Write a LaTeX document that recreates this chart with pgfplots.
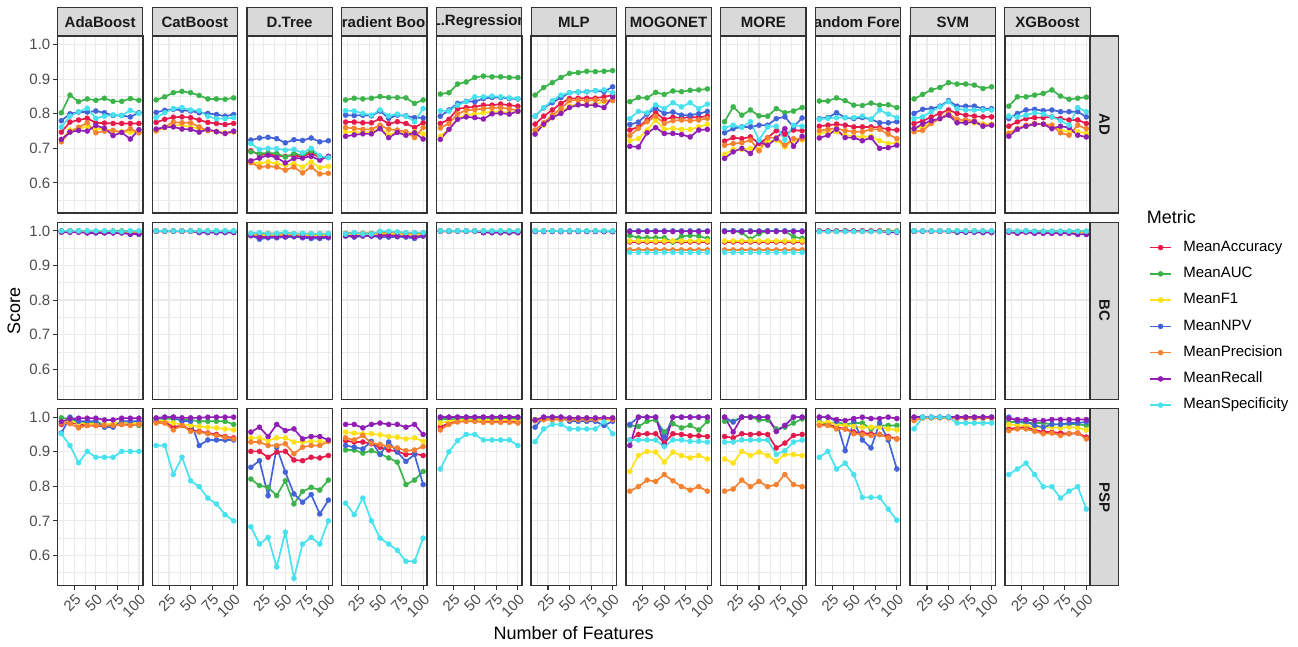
\documentclass[border=0pt]{standalone}
\usepackage{pgfplots}
\pgfplotsset{compat=1.18}
\usepackage{pgfplotstable}
\usepackage{fontspec}
\setmainfont{Liberation Sans}

\definecolor{cAcc}{HTML}{E6194B}
\definecolor{cAuc}{HTML}{3CB44B}
\definecolor{cF1}{HTML}{FFE119}
\definecolor{cNpv}{HTML}{4363D8}
\definecolor{cPrec}{HTML}{F58231}
\definecolor{cRec}{HTML}{911EB4}
\definecolor{cSpec}{HTML}{48E2EE}
\definecolor{gridc}{HTML}{EBEBEB}
\definecolor{bord}{HTML}{333333}
\definecolor{stripf}{HTML}{D9D9D9}
\definecolor{ticklab}{HTML}{4D4D4D}
\definecolor{striptxt}{HTML}{1A1A1A}

% ---------------- AD ----------------
\pgfplotstableread{
x acc auc f1 npv prec rec spec
10 0.747 0.803 0.724 0.780 0.719 0.726 0.762
20 0.776 0.854 0.753 0.800 0.748 0.747 0.793
30 0.782 0.835 0.757 0.805 0.761 0.752 0.806
40 0.787 0.843 0.763 0.805 0.774 0.750 0.816
50 0.774 0.839 0.757 0.808 0.745 0.766 0.787
60 0.773 0.845 0.755 0.803 0.750 0.758 0.793
70 0.772 0.836 0.751 0.795 0.752 0.737 0.797
80 0.772 0.836 0.748 0.795 0.746 0.746 0.795
90 0.772 0.844 0.747 0.791 0.757 0.727 0.810
100 0.772 0.839 0.748 0.803 0.745 0.754 0.801
}\tAdaAD
\pgfplotstableread{
x acc auc f1 npv prec rec spec
10 0.775 0.840 0.750 0.804 0.751 0.756 0.789
20 0.784 0.849 0.760 0.810 0.762 0.761 0.803
30 0.790 0.861 0.767 0.813 0.776 0.762 0.815
40 0.791 0.865 0.767 0.810 0.774 0.756 0.818
50 0.789 0.861 0.762 0.808 0.774 0.755 0.811
60 0.782 0.853 0.757 0.803 0.762 0.747 0.809
70 0.775 0.843 0.753 0.801 0.751 0.755 0.793
80 0.772 0.843 0.748 0.798 0.749 0.748 0.786
90 0.769 0.842 0.745 0.793 0.743 0.743 0.786
100 0.772 0.846 0.748 0.798 0.748 0.750 0.789
}\tCatAD
\pgfplotstableread{
x acc auc f1 npv prec rec spec
10 0.693 0.690 0.661 0.724 0.659 0.664 0.714
20 0.681 0.685 0.656 0.730 0.646 0.672 0.697
30 0.683 0.687 0.661 0.732 0.648 0.680 0.700
40 0.679 0.685 0.656 0.728 0.646 0.673 0.699
50 0.677 0.675 0.651 0.716 0.637 0.658 0.695
60 0.680 0.685 0.656 0.725 0.646 0.671 0.697
70 0.675 0.680 0.646 0.723 0.629 0.672 0.687
80 0.687 0.693 0.661 0.730 0.646 0.677 0.700
90 0.673 0.675 0.644 0.719 0.626 0.666 0.678
100 0.675 0.675 0.648 0.722 0.628 0.677 0.673
}\tDtAD
\pgfplotstableread{
x acc auc f1 npv prec rec spec
10 0.776 0.840 0.748 0.796 0.760 0.735 0.809
20 0.776 0.845 0.747 0.795 0.758 0.739 0.808
30 0.774 0.843 0.747 0.796 0.755 0.742 0.801
40 0.774 0.845 0.745 0.794 0.755 0.742 0.796
50 0.786 0.850 0.760 0.808 0.767 0.757 0.811
60 0.771 0.847 0.738 0.787 0.755 0.731 0.794
70 0.777 0.847 0.748 0.796 0.753 0.746 0.799
80 0.772 0.846 0.741 0.794 0.748 0.738 0.793
90 0.760 0.830 0.748 0.789 0.731 0.745 0.777
100 0.774 0.840 0.741 0.788 0.760 0.727 0.815
}\tGbAD
\pgfplotstableread{
x acc auc f1 npv prec rec spec
10 0.772 0.857 0.735 0.793 0.759 0.726 0.809
20 0.784 0.861 0.755 0.811 0.772 0.755 0.808
30 0.814 0.886 0.786 0.830 0.800 0.784 0.825
40 0.818 0.892 0.796 0.836 0.810 0.791 0.835
50 0.820 0.905 0.799 0.835 0.812 0.789 0.849
60 0.825 0.909 0.803 0.844 0.815 0.785 0.849
70 0.825 0.907 0.806 0.847 0.817 0.800 0.851
80 0.828 0.907 0.806 0.847 0.818 0.802 0.849
90 0.825 0.905 0.803 0.844 0.814 0.799 0.846
100 0.822 0.905 0.806 0.843 0.810 0.807 0.844
}\tLrAD
\pgfplotstableread{
x acc auc f1 npv prec rec spec
10 0.770 0.854 0.745 0.793 0.753 0.741 0.793
20 0.793 0.876 0.767 0.817 0.774 0.770 0.818
30 0.811 0.890 0.789 0.832 0.796 0.789 0.838
40 0.830 0.905 0.806 0.847 0.815 0.801 0.854
50 0.844 0.917 0.822 0.861 0.838 0.818 0.861
60 0.845 0.919 0.828 0.863 0.840 0.826 0.863
70 0.845 0.923 0.826 0.864 0.838 0.825 0.864
80 0.845 0.922 0.828 0.867 0.840 0.825 0.867
90 0.849 0.923 0.835 0.864 0.838 0.818 0.869
100 0.854 0.925 0.840 0.878 0.838 0.849 0.861
}\tMlpAD
\pgfplotstableread{
x acc auc f1 npv prec rec spec
10 0.753 0.835 0.722 0.769 0.737 0.706 0.786
20 0.762 0.847 0.728 0.776 0.758 0.704 0.807
30 0.782 0.846 0.753 0.799 0.777 0.745 0.803
40 0.803 0.862 0.782 0.816 0.793 0.760 0.826
50 0.784 0.856 0.755 0.801 0.772 0.743 0.815
60 0.790 0.866 0.758 0.805 0.780 0.743 0.832
70 0.788 0.864 0.755 0.796 0.782 0.740 0.820
80 0.790 0.868 0.755 0.796 0.780 0.733 0.832
90 0.790 0.869 0.762 0.800 0.782 0.753 0.815
100 0.793 0.872 0.770 0.807 0.787 0.755 0.828
}\tMogAD
\pgfplotstableread{
x acc auc f1 npv prec rec spec
10 0.721 0.777 0.683 0.745 0.709 0.671 0.759
20 0.731 0.820 0.697 0.757 0.714 0.690 0.767
30 0.728 0.796 0.697 0.762 0.716 0.700 0.761
40 0.733 0.811 0.700 0.762 0.724 0.685 0.777
50 0.714 0.794 0.697 0.767 0.693 0.719 0.724
60 0.731 0.793 0.719 0.767 0.731 0.709 0.762
70 0.751 0.815 0.724 0.786 0.731 0.728 0.764
80 0.741 0.803 0.704 0.791 0.709 0.757 0.724
90 0.753 0.808 0.724 0.762 0.728 0.706 0.767
100 0.751 0.818 0.724 0.788 0.728 0.735 0.764
}\tMoreAD
\pgfplotstableread{
x acc auc f1 npv prec rec spec
10 0.764 0.837 0.743 0.786 0.751 0.730 0.784
20 0.767 0.837 0.748 0.789 0.755 0.738 0.787
30 0.770 0.846 0.748 0.803 0.758 0.755 0.789
40 0.767 0.838 0.738 0.789 0.751 0.731 0.789
50 0.762 0.825 0.735 0.786 0.748 0.731 0.789
60 0.762 0.824 0.733 0.789 0.748 0.722 0.793
70 0.762 0.831 0.735 0.784 0.755 0.731 0.784
80 0.760 0.825 0.722 0.774 0.755 0.700 0.811
90 0.755 0.826 0.714 0.774 0.741 0.702 0.799
100 0.753 0.818 0.716 0.777 0.728 0.709 0.789
}\tRfAD
\pgfplotstableread{
x acc auc f1 npv prec rec spec
10 0.772 0.843 0.757 0.801 0.748 0.757 0.786
20 0.779 0.856 0.762 0.813 0.752 0.770 0.791
30 0.791 0.869 0.774 0.815 0.772 0.780 0.806
40 0.801 0.876 0.786 0.822 0.786 0.786 0.820
50 0.811 0.890 0.801 0.838 0.801 0.796 0.835
60 0.801 0.886 0.782 0.822 0.784 0.774 0.815
70 0.796 0.886 0.777 0.822 0.782 0.774 0.811
80 0.793 0.883 0.774 0.822 0.780 0.777 0.811
90 0.791 0.873 0.770 0.815 0.767 0.764 0.811
100 0.791 0.878 0.770 0.815 0.767 0.767 0.811
}\tSvmAD
\pgfplotstableread{
x acc auc f1 npv prec rec spec
10 0.764 0.822 0.745 0.786 0.743 0.735 0.793
20 0.777 0.849 0.757 0.801 0.757 0.755 0.791
30 0.786 0.849 0.764 0.811 0.767 0.764 0.796
40 0.789 0.854 0.770 0.813 0.772 0.770 0.803
50 0.789 0.859 0.770 0.809 0.770 0.770 0.799
60 0.791 0.869 0.767 0.811 0.767 0.757 0.791
70 0.786 0.851 0.752 0.806 0.745 0.764 0.780
80 0.782 0.842 0.748 0.806 0.738 0.760 0.767
90 0.782 0.845 0.748 0.806 0.767 0.738 0.818
100 0.772 0.848 0.743 0.791 0.757 0.733 0.806
}\tXgbAD

% ---------------- BC ----------------
\pgfplotstableread{
x acc auc f1 npv prec rec spec
10 0.998 1.000 0.997 1.000 0.999 0.996 1.000
20 0.998 1.000 0.997 1.000 0.999 0.996 1.000
30 0.998 1.000 0.997 1.000 0.999 0.996 1.000
40 0.997 0.999 0.996 0.995 0.998 0.994 1.000
50 0.997 0.999 0.996 0.995 0.998 0.994 1.000
60 0.997 0.999 0.996 0.995 0.998 0.994 1.000
70 0.997 1.000 0.996 0.995 0.998 0.994 0.999
80 0.997 1.000 0.996 0.995 0.998 0.994 0.998
90 0.996 0.999 0.994 0.990 0.997 0.991 1.000
100 0.996 0.999 0.994 0.990 0.997 0.991 1.000
}\tAdaBC
\pgfplotstableread{
x acc auc f1 npv prec rec spec
10 0.999 1.000 0.999 1.000 1.000 0.999 1.000
20 0.999 1.000 0.999 1.000 1.000 0.999 1.000
30 0.999 1.000 0.999 1.000 1.000 0.999 1.000
40 0.999 1.000 0.999 1.000 1.000 0.999 1.000
50 0.999 1.000 0.999 1.000 1.000 0.999 1.000
60 0.998 1.000 0.997 0.995 0.999 0.996 1.000
70 0.998 1.000 0.997 0.995 0.999 0.996 1.000
80 0.998 1.000 0.997 0.995 0.999 0.996 1.000
90 0.998 1.000 0.997 0.995 0.999 0.996 1.000
100 0.998 1.000 0.997 0.995 0.999 0.996 1.000
}\tCatBC
\pgfplotstableread{
x acc auc f1 npv prec rec spec
10 0.989 0.990 0.989 0.987 0.992 0.986 0.993
20 0.986 0.989 0.987 0.976 0.992 0.982 0.995
30 0.987 0.990 0.988 0.980 0.993 0.983 0.992
40 0.987 0.990 0.988 0.980 0.992 0.983 0.993
50 0.988 0.990 0.989 0.982 0.993 0.984 0.996
60 0.988 0.990 0.989 0.983 0.992 0.985 0.992
70 0.987 0.990 0.988 0.980 0.992 0.983 0.993
80 0.986 0.989 0.987 0.978 0.992 0.982 0.992
90 0.986 0.989 0.987 0.978 0.992 0.982 0.992
100 0.987 0.990 0.988 0.980 0.992 0.983 0.992
}\tDtBC
\pgfplotstableread{
x acc auc f1 npv prec rec spec
10 0.988 0.993 0.989 0.985 0.992 0.986 0.991
20 0.989 0.993 0.990 0.982 0.994 0.985 0.995
30 0.988 0.993 0.989 0.985 0.992 0.986 0.991
40 0.988 0.993 0.989 0.985 0.992 0.986 0.991
50 0.991 0.994 0.992 0.982 0.997 0.986 0.999
60 0.991 0.994 0.992 0.982 0.997 0.986 0.999
70 0.990 0.994 0.991 0.983 0.996 0.985 0.997
80 0.989 0.993 0.990 0.982 0.994 0.985 0.995
90 0.988 0.993 0.988 0.978 0.994 0.982 0.995
100 0.989 0.993 0.990 0.985 0.994 0.986 0.995
}\tGbBC
\pgfplotstableread{
x acc auc f1 npv prec rec spec
10 0.999 1.000 0.999 1.000 1.000 0.999 1.000
20 0.999 1.000 0.999 1.000 1.000 0.999 1.000
30 0.999 1.000 0.999 1.000 1.000 0.999 1.000
40 0.999 1.000 0.999 1.000 1.000 0.999 1.000
50 0.999 1.000 0.999 1.000 1.000 0.999 1.000
60 0.998 1.000 0.997 0.995 0.999 0.995 1.000
70 0.998 1.000 0.997 0.995 0.999 0.995 1.000
80 0.998 1.000 0.997 0.995 0.999 0.995 1.000
90 0.998 1.000 0.997 0.995 0.999 0.995 1.000
100 0.998 1.000 0.997 0.995 0.999 0.995 1.000
}\tLrBC
\pgfplotstableread{
x acc auc f1 npv prec rec spec
10 0.999 1.000 0.999 1.000 0.999 0.998 1.000
20 0.999 1.000 0.999 1.000 0.999 0.998 1.000
30 0.999 1.000 0.999 1.000 0.999 0.998 1.000
40 0.999 1.000 0.999 1.000 0.999 0.998 1.000
50 0.999 1.000 0.999 1.000 0.999 0.998 1.000
60 0.999 1.000 0.999 1.000 0.999 0.998 1.000
70 0.999 1.000 0.999 0.999 0.999 0.998 1.000
80 0.999 1.000 0.999 0.999 0.999 0.998 1.000
90 0.999 1.000 0.999 0.998 0.999 0.998 1.000
100 0.999 1.000 0.999 0.998 0.999 0.998 1.000
}\tMlpBC
\pgfplotstableread{
x acc auc f1 npv prec rec spec
10 0.968 0.987 0.971 1.000 0.945 0.998 0.938
20 0.968 0.980 0.971 1.000 0.945 0.998 0.938
30 0.968 0.980 0.971 1.000 0.945 0.998 0.938
40 0.968 0.980 0.971 1.000 0.945 0.998 0.938
50 0.968 0.980 0.971 1.000 0.945 0.998 0.938
60 0.968 0.968 0.971 1.000 0.945 0.998 0.938
70 0.968 0.984 0.971 1.000 0.945 0.998 0.938
80 0.968 0.987 0.971 1.000 0.945 0.998 0.938
90 0.968 0.985 0.971 1.000 0.945 0.998 0.938
100 0.968 0.978 0.971 1.000 0.945 0.998 0.938
}\tMogBC
\pgfplotstableread{
x acc auc f1 npv prec rec spec
10 0.968 1.000 0.971 1.000 0.945 0.998 0.938
20 0.968 1.000 0.971 1.000 0.945 0.998 0.938
30 0.968 0.995 0.971 1.000 0.945 0.998 0.938
40 0.968 0.976 0.971 1.000 0.945 0.998 0.938
50 0.968 0.992 0.971 1.000 0.945 0.998 0.938
60 0.968 1.000 0.971 1.000 0.945 0.998 0.938
70 0.968 1.000 0.971 1.000 0.945 0.998 0.938
80 0.968 1.000 0.971 1.000 0.945 0.998 0.938
90 0.968 0.983 0.971 1.000 0.945 0.998 0.938
100 0.968 0.978 0.971 1.000 0.945 0.998 0.938
}\tMoreBC
\pgfplotstableread{
x acc auc f1 npv prec rec spec
10 0.999 1.000 0.999 1.000 1.000 0.999 0.998
20 0.999 1.000 0.999 1.000 1.000 0.999 0.998
30 0.999 1.000 0.999 1.000 1.000 0.999 0.998
40 0.999 1.000 0.999 1.000 1.000 0.999 0.998
50 0.999 1.000 0.999 1.000 1.000 0.999 0.998
60 0.999 1.000 0.999 1.000 1.000 0.999 0.998
70 0.999 1.000 0.999 1.000 1.000 0.999 0.998
80 0.999 1.000 0.999 1.000 1.000 0.999 0.998
90 0.998 1.000 0.998 0.996 0.999 0.997 0.998
100 0.998 1.000 0.998 0.996 0.999 0.997 0.998
}\tRfBC
\pgfplotstableread{
x acc auc f1 npv prec rec spec
10 0.999 1.000 0.999 1.000 1.000 0.999 1.000
20 0.999 1.000 0.999 1.000 1.000 0.999 1.000
30 0.999 1.000 0.999 1.000 1.000 0.999 1.000
40 0.999 1.000 0.999 1.000 1.000 0.999 1.000
50 0.999 1.000 0.999 1.000 1.000 0.999 1.000
60 0.998 1.000 0.998 0.996 0.999 0.997 1.000
70 0.998 1.000 0.998 0.996 0.999 0.997 1.000
80 0.998 1.000 0.998 0.996 0.999 0.997 1.000
90 0.998 1.000 0.998 0.995 0.999 0.996 1.000
100 0.998 1.000 0.998 0.995 0.999 0.996 1.000
}\tSvmBC
\pgfplotstableread{
x acc auc f1 npv prec rec spec
10 0.998 0.999 0.998 1.000 0.999 0.996 1.000
20 0.997 0.999 0.997 0.995 0.998 0.993 0.999
30 0.998 0.999 0.998 1.000 0.999 0.996 1.000
40 0.997 0.999 0.997 0.995 0.998 0.993 0.999
50 0.997 0.999 0.997 0.995 0.998 0.993 0.999
60 0.997 0.999 0.997 0.995 0.998 0.993 0.999
70 0.997 0.999 0.997 0.995 0.998 0.993 0.999
80 0.997 0.999 0.997 0.995 0.998 0.993 0.999
90 0.996 0.999 0.995 0.990 0.998 0.990 0.999
100 0.996 0.999 0.995 0.990 0.998 0.990 0.999
}\tXgbBC

% ---------------- PSP ----------------
\pgfplotstableread{
x acc auc f1 npv prec rec spec
10 0.979 0.998 0.986 0.954 0.983 0.987 0.952
20 0.986 0.995 0.988 1.000 0.981 0.995 0.918
30 0.979 0.986 0.983 0.988 0.969 0.997 0.868
40 0.976 0.986 0.981 0.988 0.976 0.997 0.901
50 0.976 0.986 0.981 0.988 0.976 0.997 0.884
60 0.973 0.979 0.979 0.971 0.976 0.992 0.884
70 0.976 0.979 0.981 0.971 0.976 0.992 0.884
80 0.979 0.986 0.986 0.988 0.979 0.997 0.901
90 0.979 0.983 0.983 0.988 0.976 0.997 0.901
100 0.979 0.976 0.983 0.988 0.979 0.997 0.901
}\tAdaPSP
\pgfplotstableread{
x acc auc f1 npv prec rec spec
10 0.988 0.995 0.992 0.995 0.983 0.998 0.918
20 0.986 0.995 0.988 1.000 0.983 1.000 0.918
30 0.971 0.995 0.983 1.000 0.963 1.000 0.834
40 0.976 0.992 0.979 0.988 0.976 0.998 0.884
50 0.963 0.992 0.976 0.988 0.959 0.998 0.816
60 0.959 0.988 0.973 0.918 0.957 0.998 0.799
70 0.954 0.988 0.971 0.934 0.952 1.000 0.766
80 0.950 0.988 0.969 0.934 0.947 1.000 0.749
90 0.944 0.988 0.966 0.934 0.942 1.000 0.718
100 0.940 0.979 0.963 0.934 0.937 1.000 0.700
}\tCatPSP
\pgfplotstableread{
x acc auc f1 npv prec rec spec
10 0.901 0.821 0.940 0.855 0.928 0.957 0.683
20 0.901 0.802 0.940 0.874 0.928 0.971 0.633
30 0.884 0.797 0.932 0.773 0.918 0.944 0.652
40 0.899 0.773 0.940 0.913 0.918 0.979 0.567
50 0.901 0.816 0.940 0.841 0.923 0.961 0.667
60 0.876 0.749 0.928 0.778 0.894 0.966 0.534
70 0.874 0.785 0.928 0.754 0.913 0.937 0.633
80 0.884 0.797 0.930 0.776 0.918 0.944 0.652
90 0.882 0.789 0.930 0.720 0.918 0.944 0.633
100 0.889 0.818 0.930 0.760 0.930 0.934 0.700
}\tDtPSP
\pgfplotstableread{
x acc auc f1 npv prec rec spec
10 0.932 0.905 0.957 0.918 0.940 0.979 0.751
20 0.928 0.905 0.954 0.913 0.934 0.979 0.718
30 0.928 0.896 0.952 0.908 0.947 0.969 0.766
40 0.923 0.903 0.952 0.930 0.925 0.979 0.700
50 0.913 0.894 0.949 0.892 0.921 0.983 0.650
60 0.905 0.882 0.944 0.928 0.915 0.979 0.633
70 0.901 0.870 0.942 0.899 0.911 0.979 0.615
80 0.892 0.805 0.937 0.872 0.903 0.971 0.583
90 0.894 0.818 0.940 0.892 0.905 0.979 0.583
100 0.889 0.843 0.930 0.805 0.915 0.950 0.650
}\tGbPSP
\pgfplotstableread{
x acc auc f1 npv prec rec spec
10 0.971 0.995 0.983 1.000 0.963 1.000 0.850
20 0.983 0.995 0.988 1.000 0.979 1.000 0.900
30 0.988 0.995 0.992 1.000 0.986 1.000 0.932
40 0.990 0.995 0.992 1.000 0.988 1.000 0.950
50 0.990 0.995 0.992 1.000 0.988 1.000 0.950
60 0.988 0.995 0.992 1.000 0.985 1.000 0.934
70 0.988 0.995 0.992 1.000 0.985 1.000 0.934
80 0.988 0.995 0.992 1.000 0.985 1.000 0.934
90 0.988 0.995 0.992 1.000 0.985 1.000 0.934
100 0.986 0.995 0.990 1.000 0.983 1.000 0.918
}\tLrPSP
\pgfplotstableread{
x acc auc f1 npv prec rec spec
10 0.990 0.993 0.992 0.971 0.990 0.992 0.929
20 0.993 0.995 0.993 1.000 0.993 1.000 0.966
30 0.994 0.995 0.994 1.000 0.993 1.000 0.979
40 0.994 0.995 0.994 1.000 0.993 1.000 0.979
50 0.993 0.995 0.993 0.988 0.993 0.998 0.966
60 0.993 0.995 0.993 0.988 0.993 0.998 0.966
70 0.993 0.995 0.993 0.988 0.993 0.998 0.966
80 0.993 0.995 0.993 0.988 0.993 0.998 0.966
90 0.995 0.995 0.995 0.976 0.995 0.998 0.986
100 0.993 0.995 0.993 0.988 0.993 0.998 0.952
}\tMlpPSP
\pgfplotstableread{
x acc auc f1 npv prec rec spec
10 0.934 0.976 0.843 0.979 0.786 0.918 0.934
20 0.950 0.973 0.889 1.000 0.799 1.000 0.934
30 0.952 0.988 0.901 1.000 0.818 1.000 0.934
40 0.952 0.992 0.899 1.000 0.814 1.000 0.934
50 0.925 0.957 0.870 0.942 0.834 0.918 0.915
60 0.952 0.981 0.899 1.000 0.816 1.000 0.934
70 0.950 0.969 0.889 1.000 0.799 1.000 0.934
80 0.946 0.976 0.882 1.000 0.789 1.000 0.930
90 0.946 0.963 0.889 1.000 0.799 1.000 0.930
100 0.944 0.988 0.879 1.000 0.786 1.000 0.928
}\tMogPSP
\pgfplotstableread{
x acc auc f1 npv prec rec spec
10 0.944 0.988 0.879 1.000 0.786 1.000 0.928
20 0.940 0.988 0.867 0.986 0.792 0.957 0.928
30 0.952 1.000 0.901 1.000 0.818 1.000 0.934
40 0.950 1.000 0.889 1.000 0.799 1.000 0.934
50 0.952 0.992 0.899 1.000 0.814 1.000 0.934
60 0.950 0.992 0.889 1.000 0.799 1.000 0.934
70 0.911 0.966 0.872 0.959 0.805 0.959 0.892
80 0.925 0.971 0.892 0.976 0.834 0.976 0.903
90 0.947 0.983 0.892 1.000 0.805 1.000 0.928
100 0.950 0.995 0.889 1.000 0.799 1.000 0.934
}\tMorePSP
\pgfplotstableread{
x acc auc f1 npv prec rec spec
10 0.979 0.988 0.983 1.000 0.976 1.000 0.884
20 0.979 0.979 0.986 1.000 0.976 1.000 0.901
30 0.971 0.986 0.979 0.988 0.966 0.993 0.850
40 0.966 0.979 0.976 0.903 0.966 0.990 0.867
50 0.957 0.983 0.973 0.988 0.952 0.996 0.834
60 0.954 0.983 0.971 0.934 0.950 1.000 0.768
70 0.952 0.966 0.971 0.911 0.947 0.996 0.768
80 0.950 0.976 0.971 0.983 0.950 0.996 0.768
90 0.944 0.976 0.966 0.934 0.940 1.000 0.734
100 0.937 0.976 0.963 0.850 0.937 0.996 0.702
}\tRfPSP
\pgfplotstableread{
x acc auc f1 npv prec rec spec
10 0.995 0.997 0.995 1.000 0.990 1.000 0.966
20 0.999 0.999 0.999 1.000 0.998 1.000 1.000
30 0.999 0.999 0.999 1.000 0.998 1.000 1.000
40 0.999 0.999 0.999 1.000 0.998 1.000 1.000
50 0.999 0.999 0.999 1.000 0.998 1.000 1.000
60 0.998 0.999 0.998 1.000 0.997 1.000 0.983
70 0.998 0.999 0.998 1.000 0.997 1.000 0.983
80 0.998 0.999 0.998 1.000 0.997 1.000 0.983
90 0.998 0.999 0.998 1.000 0.997 1.000 0.983
100 0.998 0.999 0.998 1.000 0.997 1.000 0.983
}\tSvmPSP
\pgfplotstableread{
x acc auc f1 npv prec rec spec
10 0.966 0.986 0.979 1.000 0.961 0.996 0.834
20 0.969 0.986 0.976 0.988 0.966 0.993 0.850
30 0.971 0.983 0.976 0.988 0.966 0.993 0.867
40 0.963 0.983 0.971 0.976 0.959 0.990 0.834
50 0.957 0.983 0.971 0.971 0.952 0.990 0.799
60 0.957 0.979 0.971 0.979 0.954 0.993 0.799
70 0.954 0.979 0.969 0.979 0.947 0.993 0.766
80 0.952 0.979 0.971 0.983 0.952 0.993 0.786
90 0.954 0.979 0.969 0.983 0.954 0.993 0.799
100 0.942 0.976 0.963 0.986 0.937 0.993 0.734
}\tXgbPSP

\pgfplotscreateplotcyclelist{met}{
{cAcc,mark=*},{cAuc,mark=*},{cF1,mark=*},{cNpv,mark=*},{cPrec,mark=*},{cRec,mark=*},{cSpec,mark=*}}

\newcommand{\lblfont}{\fontsize{11.25}{13}\selectfont}

\pgfplotsset{
  panel/.style={
    scale only axis, width=63.975pt, height=132.75pt, anchor=north west,
    xmin=5.5, xmax=104.5, ymin=0.513, ymax=1.025,
    xtick={25,50,75,100}, minor xtick={12.5,37.5,62.5,87.5},
    ytick={0.6,0.7,0.8,0.9,1.0}, minor ytick={0.55,0.65,0.75,0.85,0.95},
    grid=both,
    major grid style={gridc, line width=0.9pt},
    minor grid style={gridc, line width=0.45pt},
    axis line style={bord, line width=1.1pt},
    tick align=outside, major tick length=3.2pt, minor tick length=0pt,
    every tick/.style={bord, line width=0.8pt},
    xtick pos=bottom, ytick pos=left,
    xticklabels={}, yticklabels={},
    tick label style={font=\lblfont, text=ticklab},
    cycle list name=met,
    every axis plot/.append style={line width=1.25pt, mark size=1.9pt, mark options={line width=0.3pt}},
  },
  ylab/.style={yticklabels={0.6,0.7,0.8,0.9,1.0}, yticklabel style={inner sep=2pt}},
  noy/.style={ytick style={draw=none}},
  xlab/.style={xticklabels={25,50,75,100}, xticklabel style={rotate=45, anchor=north east, inner sep=1.5pt}},
  nox/.style={xtick style={draw=none}},
}

\newcommand{\panel}[4]{%
  \begin{axis}[panel, at={({43.125pt+(#1-1)*71.055pt},{-27pt-(#2-1)*139.69pt})}, #4]
    \addplot table[x=x,y=acc]{#3};
    \addplot table[x=x,y=auc]{#3};
    \addplot table[x=x,y=f1]{#3};
    \addplot table[x=x,y=npv]{#3};
    \addplot table[x=x,y=prec]{#3};
    \addplot table[x=x,y=rec]{#3};
    \addplot table[x=x,y=spec]{#3};
  \end{axis}}

\newcommand{\topstrip}[2]{%
  \begin{scope}
    \fill[stripf] ({43.125pt+(#1-1)*71.055pt},-5.5pt) rectangle ({43.125pt+(#1-1)*71.055pt+63.975pt},-27pt);
    \clip ({43.125pt+(#1-1)*71.055pt},-5.5pt) rectangle ({43.125pt+(#1-1)*71.055pt+63.975pt},-27pt);
    \node[font=\lblfont\bfseries, text=striptxt, inner sep=0pt] at ({43.125pt+(#1-1)*71.055pt+31.99pt},-16.6pt) {#2};
  \end{scope}
  \draw[bord, line width=0.8pt] ({43.125pt+(#1-1)*71.055pt},-5.5pt) rectangle ({43.125pt+(#1-1)*71.055pt+63.975pt},-27pt);}

\newcommand{\rightstrip}[2]{%
  \draw[bord, line width=0.8pt, fill=stripf] (818pt,{-27pt-(#1-1)*139.69pt}) rectangle (838.7pt,{-27pt-(#1-1)*139.69pt-132.75pt});
  \node[font=\lblfont\bfseries, text=striptxt, rotate=-90, inner sep=0pt] at (828.35pt,{-27pt-(#1-1)*139.69pt-66.375pt}) {#2};}

\begin{document}
\begin{tikzpicture}
\useasboundingbox (0pt,0pt) rectangle (973.5pt,-484.5pt);

% Row AD
\panel{1}{1}{\tAdaAD}{ylab,nox}
\panel{2}{1}{\tCatAD}{noy,nox}
\panel{3}{1}{\tDtAD}{noy,nox}
\panel{4}{1}{\tGbAD}{noy,nox}
\panel{5}{1}{\tLrAD}{noy,nox}
\panel{6}{1}{\tMlpAD}{noy,nox}
\panel{7}{1}{\tMogAD}{noy,nox}
\panel{8}{1}{\tMoreAD}{noy,nox}
\panel{9}{1}{\tRfAD}{noy,nox}
\panel{10}{1}{\tSvmAD}{noy,nox}
\panel{11}{1}{\tXgbAD}{noy,nox}
% Row BC
\panel{1}{2}{\tAdaBC}{ylab,nox}
\panel{2}{2}{\tCatBC}{noy,nox}
\panel{3}{2}{\tDtBC}{noy,nox}
\panel{4}{2}{\tGbBC}{noy,nox}
\panel{5}{2}{\tLrBC}{noy,nox}
\panel{6}{2}{\tMlpBC}{noy,nox}
\panel{7}{2}{\tMogBC}{noy,nox}
\panel{8}{2}{\tMoreBC}{noy,nox}
\panel{9}{2}{\tRfBC}{noy,nox}
\panel{10}{2}{\tSvmBC}{noy,nox}
\panel{11}{2}{\tXgbBC}{noy,nox,
  legend entries={MeanAccuracy,MeanAUC,MeanF1,MeanNPV,MeanPrecision,MeanRecall,MeanSpecificity},
  legend cell align=left,
  legend image code/.code={\draw[mark repeat=2,mark phase=2,#1] plot coordinates {(0pt,0pt) (7.875pt,0pt) (15.75pt,0pt)};},
  legend style={at={(rel axis cs:1.689,0.898)}, anchor=north west, draw=none, fill=none,
    font=\lblfont, inner sep=0pt, row sep=9.2pt,
    nodes={inner sep=0pt, text height=8pt, text depth=2.5pt},
    /tikz/every odd column/.append style={column sep=8.5pt}}}
% Row PSP
\panel{1}{3}{\tAdaPSP}{ylab,xlab}
\panel{2}{3}{\tCatPSP}{noy,xlab}
\panel{3}{3}{\tDtPSP}{noy,xlab}
\panel{4}{3}{\tGbPSP}{noy,xlab}
\panel{5}{3}{\tLrPSP}{noy,xlab}
\panel{6}{3}{\tMlpPSP}{noy,xlab}
\panel{7}{3}{\tMogPSP}{noy,xlab}
\panel{8}{3}{\tMorePSP}{noy,xlab}
\panel{9}{3}{\tRfPSP}{noy,xlab}
\panel{10}{3}{\tSvmPSP}{noy,xlab}
\panel{11}{3}{\tXgbPSP}{noy,xlab}

\topstrip{1}{AdaBoost}
\topstrip{2}{CatBoost}
\topstrip{3}{D.Tree}
\topstrip{4}{Gradient Boost}
\topstrip{5}{L.Regression}
\topstrip{6}{MLP}
\topstrip{7}{MOGONET}
\topstrip{8}{MORE}
\topstrip{9}{Random Forest}
\topstrip{10}{SVM}
\topstrip{11}{XGBoost}

\rightstrip{1}{AD}
\rightstrip{2}{BC}
\rightstrip{3}{PSP}

\node[font=\fontsize{13.5}{16}\selectfont, rotate=90] at (10.5pt,-232.9pt) {Score};
\node[font=\fontsize{13.5}{16}\selectfont] at (430.2pt,-474.75pt) {Number of Features};
\node[font=\fontsize{13.5}{16}\selectfont, anchor=west, inner sep=0pt] at (860pt,-162.5pt) {Metric};
\end{tikzpicture}
\end{document}
